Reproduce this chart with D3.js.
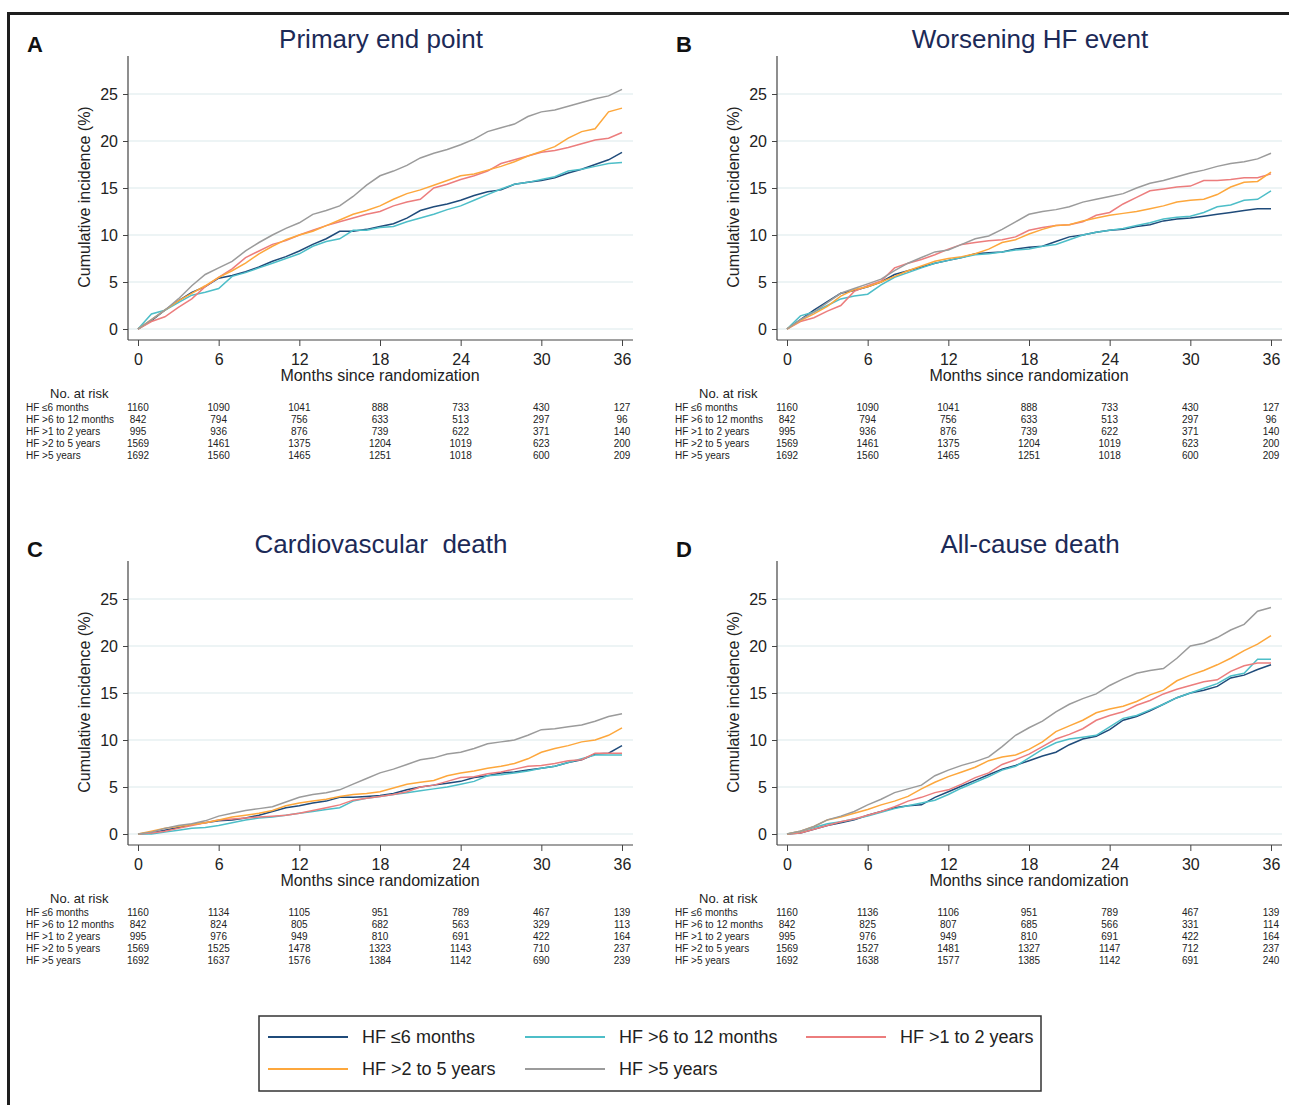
<!DOCTYPE html>
<html lang="en">
<head>
	<meta charset="utf-8">
	<title>Cumulative incidence by HF duration</title>
	<script src="https://cdn.jsdelivr.net/npm/d3@7"></script>
	<style type="text/css">
		body { margin: 0; background: #fff; }
		svg text { font-family: "Liberation Sans", Arial, sans-serif; }
	</style>
</head>
<body>
<svg id="chart"></svg>
<script type="text/javascript">
	// groups, in legend order
	var groups = ["HF \u22646 months", "HF >6 to 12 months", "HF >1 to 2 years", "HF >2 to 5 years", "HF >5 years"];
	var colors = ["#1f4b7a", "#4dbec8", "#ec7d7d", "#fda73c", "#9b9b9b"];

	var months = d3.range(0, 37);          // one value per month, 0..36
	var xTicks = [0, 6, 12, 18, 24, 30, 36];
	var yTicks = [0, 5, 10, 15, 20, 25];

	// A: primary end point (cumulative incidence %, per month)
	var primaryCurves = [
		[0,0.9,2.0,3.0,3.9,4.5,5.4,5.7,6.1,6.6, 7.2,7.7,8.3,9.0,9.6,10.4,10.4,10.6,10.9,11.2, 11.8,12.6,13.0,13.3,13.7,14.2,14.6,14.8,15.4,15.6, 15.8,16.1,16.6,17.0,17.5,18.0,18.8],
		[0,1.6,2.0,2.8,3.6,3.9,4.3,5.6,6.0,6.5, 7.0,7.5,8.0,8.8,9.3,9.6,10.5,10.5,10.8,10.9, 11.4,11.8,12.2,12.7,13.1,13.7,14.3,14.9,15.4,15.6, 15.9,16.2,16.8,17.0,17.3,17.6,17.7],
		[0,0.8,1.3,2.3,3.2,4.5,5.5,6.4,7.6,8.3, 9.0,9.4,10.0,10.5,11.0,11.4,11.8,12.2,12.5,13.1, 13.5,13.8,15.0,15.4,15.9,16.3,16.8,17.6,18.0,18.4, 18.8,19.0,19.3,19.7,20.1,20.3,20.9],
		[0,1.0,2.0,3.0,3.8,4.6,5.5,6.2,7.0,8.0, 8.8,9.5,10.0,10.4,11.0,11.6,12.2,12.6,13.1,13.8, 14.4,14.8,15.3,15.8,16.3,16.5,16.9,17.3,17.8,18.4, 18.9,19.4,20.3,21.0,21.3,23.1,23.5],
		[0,1.0,2.0,3.2,4.6,5.8,6.5,7.2,8.3,9.2, 10.0,10.7,11.3,12.2,12.6,13.1,14.1,15.3,16.3,16.8, 17.4,18.2,18.7,19.1,19.6,20.2,21.0,21.4,21.8,22.6, 23.1,23.3,23.7,24.1,24.5,24.8,25.5]
	];
	// B: worsening HF event
	var worseningCurves = [
		[0,1.0,2.0,2.9,3.8,4.1,4.5,5.0,5.8,6.2, 6.6,7.0,7.3,7.6,8.0,8.1,8.2,8.5,8.7,8.8, 9.3,9.8,10.0,10.3,10.5,10.6,10.9,11.1,11.5,11.7, 11.8,12.0,12.2,12.4,12.6,12.8,12.8],
		[0,1.4,1.8,2.5,3.2,3.5,3.7,4.7,5.5,6.0, 6.5,7.0,7.3,7.6,7.9,8.0,8.2,8.4,8.5,8.8, 9.0,9.5,10.0,10.3,10.5,10.7,11.0,11.3,11.7,11.9, 12.0,12.4,13.0,13.2,13.7,13.8,14.7],
		[0,0.8,1.2,1.9,2.5,4.0,4.6,5.1,6.5,7.0, 7.4,7.9,8.5,9.0,9.2,9.4,9.5,9.8,10.5,10.8, 11.0,11.1,11.4,12.1,12.4,13.3,14.0,14.7,14.9,15.1, 15.2,15.8,15.8,15.9,16.1,16.1,16.5],
		[0,0.9,1.6,2.4,3.5,4.2,4.5,5.0,5.6,6.2, 6.7,7.2,7.5,7.7,8.0,8.5,9.2,9.5,10.1,10.6, 11.0,11.1,11.5,11.8,12.1,12.3,12.5,12.8,13.1,13.5, 13.7,13.8,14.3,15.1,15.6,15.7,16.7],
		[0,1.0,1.8,2.8,3.8,4.3,4.8,5.3,6.2,7.0, 7.6,8.2,8.4,9.0,9.6,9.9,10.6,11.4,12.2,12.5, 12.7,13.0,13.5,13.8,14.1,14.4,15.0,15.5,15.8,16.2, 16.6,16.9,17.3,17.6,17.8,18.1,18.7]
	];
	// C: cardiovascular death
	var cvDeathCurves = [
		[0,0.1,0.4,0.7,1.0,1.2,1.4,1.5,1.7,2.0, 2.4,2.8,3.0,3.3,3.5,3.9,3.9,4.0,4.1,4.3, 4.7,5.0,5.2,5.4,5.6,6.0,6.2,6.5,6.6,6.8, 7.0,7.2,7.6,7.9,8.5,8.6,9.4],
		[0,0.0,0.2,0.4,0.6,0.7,0.9,1.2,1.5,1.7, 1.8,2.0,2.2,2.4,2.6,2.8,3.5,3.8,4.0,4.2, 4.4,4.6,4.8,5.0,5.3,5.6,6.2,6.3,6.5,6.7, 7.0,7.2,7.6,8.0,8.4,8.4,8.4],
		[0,0.1,0.3,0.6,0.9,1.2,1.5,1.6,1.7,1.8, 1.9,2.0,2.2,2.5,2.8,3.1,3.6,3.8,4.0,4.2, 4.5,5.0,5.2,5.6,6.0,6.1,6.4,6.6,6.9,7.2, 7.3,7.5,7.8,7.9,8.6,8.6,8.6],
		[0,0.3,0.6,0.8,1.0,1.2,1.5,1.8,2.0,2.2, 2.5,3.0,3.3,3.5,3.7,4.0,4.2,4.3,4.5,4.9, 5.3,5.5,5.7,6.2,6.5,6.7,7.0,7.2,7.5,8.0, 8.7,9.1,9.4,9.8,10.0,10.5,11.3],
		[0,0.2,0.6,0.9,1.1,1.4,1.9,2.2,2.5,2.7, 2.9,3.4,3.9,4.2,4.4,4.7,5.3,5.9,6.5,6.9, 7.4,7.9,8.1,8.5,8.7,9.1,9.6,9.8,10.0,10.5, 11.1,11.2,11.4,11.6,12.0,12.5,12.8]
	];
	// D: all-cause death
	var allDeathCurves = [
		[0,0.1,0.5,0.9,1.2,1.5,2.0,2.4,2.8,3.0, 3.1,3.9,4.5,5.1,5.7,6.3,6.9,7.3,7.8,8.3, 8.7,9.5,10.1,10.4,11.1,12.1,12.5,13.1,13.8,14.5, 15.0,15.3,15.7,16.6,16.9,17.5,18.0],
		[0,0.3,0.7,1.1,1.3,1.6,1.9,2.3,2.7,3.0, 3.3,3.6,4.2,4.9,5.5,6.1,6.8,7.2,8.1,9.0, 9.7,10.1,10.3,10.5,11.4,12.3,12.6,13.2,13.8,14.5, 15.0,15.5,16.0,16.8,17.1,18.6,18.6],
		[0,0.1,0.5,0.9,1.3,1.6,2.0,2.4,2.9,3.5, 3.9,4.4,4.7,5.3,6.0,6.5,7.4,7.9,8.5,9.3, 10.1,10.6,11.2,12.1,12.6,13.0,13.7,14.2,14.9,15.4, 15.8,16.2,16.4,17.3,17.9,18.2,18.2],
		[0,0.3,0.8,1.5,1.8,2.2,2.6,3.1,3.5,4.0, 4.8,5.5,6.1,6.6,7.1,7.8,8.2,8.4,9.0,9.8, 10.9,11.5,12.1,12.9,13.3,13.6,14.1,14.8,15.3,16.3, 16.9,17.4,18.0,18.7,19.5,20.2,21.1],
		[0,0.3,0.8,1.5,1.9,2.4,3.1,3.7,4.4,4.8, 5.2,6.2,6.8,7.3,7.7,8.2,9.3,10.5,11.3,12.0, 13.0,13.8,14.4,14.9,15.8,16.5,17.1,17.4,17.6,18.7, 20.0,20.3,20.9,21.7,22.3,23.7,24.1]
	];

	// numbers at risk at 0, 6, 12 ... 36 months
	var primaryRisk = [
		[1160, 1090, 1041, 888, 733, 430, 127],
		[842, 794, 756, 633, 513, 297, 96],
		[995, 936, 876, 739, 622, 371, 140],
		[1569, 1461, 1375, 1204, 1019, 623, 200],
		[1692, 1560, 1465, 1251, 1018, 600, 209]
	];
	var worseningRisk = primaryRisk;
	var cvDeathRisk = [
		[1160, 1134, 1105, 951, 789, 467, 139],
		[842, 824, 805, 682, 563, 329, 113],
		[995, 976, 949, 810, 691, 422, 164],
		[1569, 1525, 1478, 1323, 1143, 710, 237],
		[1692, 1637, 1576, 1384, 1142, 690, 239]
	];
	var allDeathRisk = [
		[1160, 1136, 1106, 951, 789, 467, 139],
		[842, 825, 807, 685, 566, 331, 114],
		[995, 976, 949, 810, 691, 422, 164],
		[1569, 1527, 1481, 1327, 1147, 712, 237],
		[1692, 1638, 1577, 1385, 1142, 691, 240]
	];

	var panels = [
		{letter: "A", title: "Primary end point", curves: primaryCurves, risk: primaryRisk, dx: 0, dy: 0},
		{letter: "B", title: "Worsening HF event", curves: worseningCurves, risk: worseningRisk, dx: 649, dy: 0},
		{letter: "C", title: "Cardiovascular  death", curves: cvDeathCurves, risk: cvDeathRisk, dx: 0, dy: 505},
		{letter: "D", title: "All-cause death", curves: allDeathCurves, risk: allDeathRisk, dx: 649, dy: 505}
	];

	var w = 1289, h = 1105;
	var svg = d3.select("#chart").attr("width", w).attr("height", h);

	// outer frame (top and left edges only)
	svg.append("line").attr("x1", 7).attr("x2", w).attr("y1", 13.5).attr("y2", 13.5)
		.attr("stroke", "#1e1e1e").attr("stroke-width", 3);
	svg.append("line").attr("x1", 8.5).attr("x2", 8.5).attr("y1", 12).attr("y2", h)
		.attr("stroke", "#1e1e1e").attr("stroke-width", 3);

	var xScale = d3.scaleLinear().domain([0, 36]).range([138, 622]);
	var yScale = d3.scaleLinear().domain([0, 25]).range([329, 94]);
	// plot frame edges (px, inside each panel)
	var plotLeft = 128, plotRight = 633, plotTop = 56, plotBottom = 340;

	panels.forEach(function(p) {
		var g = svg.append("g").attr("transform", "translate(" + p.dx + "," + p.dy + ")");

		g.append("text").text(p.letter)
			.attr("x", 27).attr("y", 52)
			.attr("font-size", "22px").attr("font-weight", "bold").attr("fill", "#111");
		g.append("text").text(p.title)
			.attr("x", 381).attr("y", 48)
			.attr("text-anchor", "middle").attr("font-size", "26px")
			.attr("fill", "#1c2a57").style("white-space", "pre");

		// grid lines
		g.selectAll("line.grid")
			.data(yTicks)
			.enter()
			.append("line")
			.attr("class", "grid")
			.attr("x1", plotLeft).attr("x2", plotRight)
			.attr("y1", function(d) { return yScale(d); })
			.attr("y2", function(d) { return yScale(d); })
			.attr("stroke", "#e7f0f2").attr("stroke-width", 1.5);

		// axes
		var yAxis = d3.axisLeft(yScale).tickValues(yTicks).tickSize(5).tickPadding(5);
		var ya = g.append("g").attr("transform", "translate(" + plotLeft + ",0)").call(yAxis);
		var xAxis = d3.axisBottom(xScale).tickValues(xTicks).tickSize(6).tickPadding(8);
		var xa = g.append("g").attr("transform", "translate(0," + plotBottom + ")").call(xAxis);
		[ya, xa].forEach(function(a) {
			a.select(".domain").remove();
			a.selectAll("line").attr("stroke", "#444");
			a.selectAll("text").attr("font-size", "16px").attr("fill", "#222")
				.attr("font-family", "Liberation Sans, Arial, sans-serif");
		});
		g.append("line").attr("x1", plotLeft).attr("x2", plotLeft).attr("y1", plotTop).attr("y2", plotBottom)
			.attr("stroke", "#444").attr("stroke-width", 1.2);
		g.append("line").attr("x1", plotLeft).attr("x2", plotRight).attr("y1", plotBottom).attr("y2", plotBottom)
			.attr("stroke", "#444").attr("stroke-width", 1.2);

		g.append("text").text("Cumulative incidence (%)")
			.attr("transform", "translate(90,197) rotate(-90)")
			.attr("text-anchor", "middle").attr("font-size", "16px").attr("fill", "#222");
		g.append("text").text("Months since randomization")
			.attr("x", 380).attr("y", 381)
			.attr("text-anchor", "middle").attr("font-size", "16px").attr("fill", "#222");

		// curves
		var line = d3.line()
			.x(function(d, i) { return xScale(months[i]); })
			.y(function(d) { return yScale(d); });
		g.selectAll("path.curve")
			.data(p.curves)
			.enter()
			.append("path")
			.attr("class", "curve")
			.attr("d", line)
			.attr("fill", "none")
			.attr("stroke", function(d, i) { return colors[i]; })
			.attr("stroke-width", 1.5);

		// numbers at risk
		g.append("text").text("No. at risk")
			.attr("x", 50).attr("y", 398)
			.attr("font-size", "13px").attr("fill", "#222");
		var rows = g.selectAll("g.riskrow")
			.data(p.risk)
			.enter()
			.append("g")
			.attr("class", "riskrow")
			.attr("transform", function(d, i) { return "translate(0," + (411 + i * 12) + ")"; });
		rows.append("text")
			.text(function(d, i) { return groups[i]; })
			.attr("x", 26).attr("y", 0)
			.attr("font-size", "10px").attr("fill", "#222");
		rows.selectAll("text.n")
			.data(function(d) { return d; })
			.enter()
			.append("text")
			.attr("class", "n")
			.text(function(d) { return d; })
			.attr("x", function(d, i) { return xScale(xTicks[i]); })
			.attr("y", 0)
			.attr("text-anchor", "middle")
			.attr("font-size", "10px").attr("fill", "#222");
	});

	// legend
	var legend = svg.append("g");
	legend.append("rect")
		.attr("x", 259).attr("y", 1016).attr("width", 782).attr("height", 75)
		.attr("fill", "none").attr("stroke", "#333").attr("stroke-width", 1.5);
	var colX = [268, 525, 806];
	var rowY = [1037, 1069];
	var items = legend.selectAll("g.item")
		.data(groups)
		.enter()
		.append("g")
		.attr("class", "item")
		.attr("transform", function(d, i) {
			return "translate(" + colX[i % 3] + "," + rowY[Math.floor(i / 3)] + ")";
		});
	items.append("line")
		.attr("x1", 0).attr("x2", 80).attr("y1", 0).attr("y2", 0)
		.attr("stroke", function(d, i) { return colors[i]; })
		.attr("stroke-width", 2);
	items.append("text")
		.text(function(d) { return d; })
		.attr("x", 94).attr("y", 6)
		.attr("font-size", "18px").attr("fill", "#222");
</script>
</body>
</html>
